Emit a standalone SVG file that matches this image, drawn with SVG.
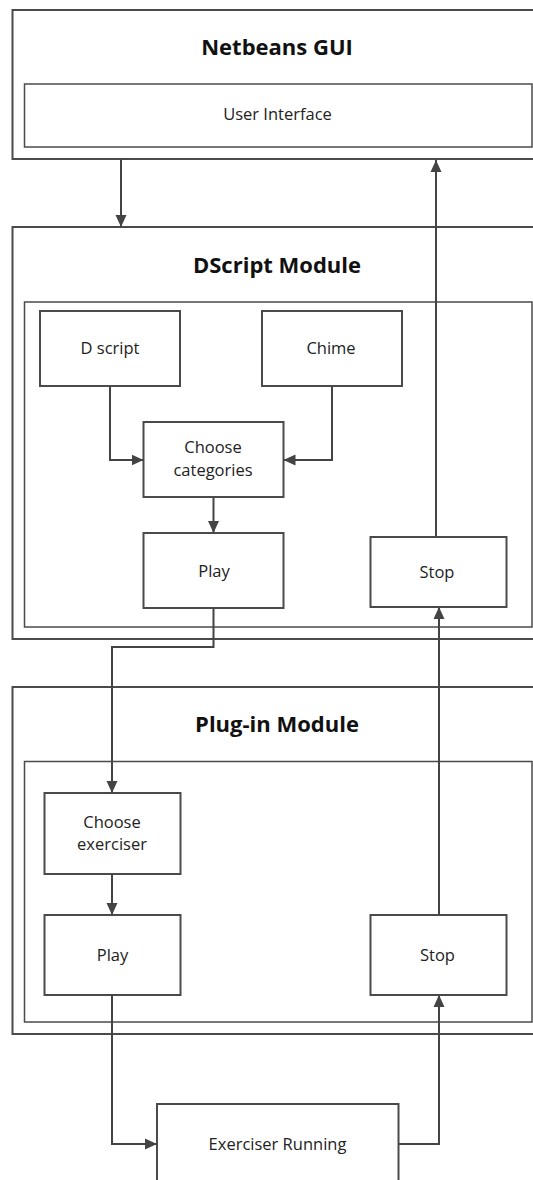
<svg xmlns="http://www.w3.org/2000/svg" width="533" height="1180" viewBox="0 0 533 1180">
  <defs>
    <marker id="arrow" viewBox="0 0 12 12" refX="12" refY="6" markerWidth="12" markerHeight="12" markerUnits="userSpaceOnUse" orient="auto">
      <path d="M0,0.5 L12,6 L0,11.5 z" fill="#444"/>
    </marker>
    <style>
      .outer { fill: none; stroke: #4a4a4a; stroke-width: 2; }
      .inner { fill: none; stroke: #4a4a4a; stroke-width: 1.5; }
      .node { fill: #fff; stroke: #4a4a4a; stroke-width: 2; }
      .title { font-family: "Open Sans", "Liberation Sans", sans-serif; font-weight: bold; font-size: 22px; fill: #111; text-anchor: middle; }
      .label { font-family: "Open Sans", "Liberation Sans", sans-serif; font-size: 16.5px; fill: #222; text-anchor: middle; }
      .conn { fill: none; stroke: #444; stroke-width: 2; }
    </style>
  </defs>
  <rect width="533" height="1180" fill="#fff"/>

  <!-- Netbeans GUI container -->
  <g id="netbeans-gui">
    <rect class="outer" x="12.5" y="10" width="530" height="149"/>
    <text class="title" x="277" y="55">Netbeans GUI</text>
  </g>
  <g id="user-interface">
    <rect class="inner" x="24.5" y="84" width="507.5" height="63"/>
    <text class="label" x="277.5" y="120">User Interface</text>
  </g>

  <!-- DScript module container -->
  <g id="dscript-module">
    <rect class="outer" x="12.5" y="227" width="530" height="412"/>
    <text class="title" x="277" y="273">DScript Module</text>
    <rect class="inner" x="24.5" y="302" width="507.5" height="325"/>
  </g>
  <g id="dscript">
    <rect class="node" x="40" y="311" width="140" height="75"/>
    <text class="label" x="110" y="354">D script</text>
  </g>
  <g id="chime">
    <rect class="node" x="262" y="311" width="140" height="75"/>
    <text class="label" x="331" y="354">Chime</text>
  </g>
  <g id="choose-categories">
    <rect class="node" x="143.5" y="422" width="140" height="75"/>
    <text class="label" x="213" y="453">Choose</text>
    <text class="label" x="213" y="475.5">categories</text>
  </g>
  <g id="dscript-play">
    <rect class="node" x="143.5" y="533" width="140" height="75"/>
    <text class="label" x="214" y="576.5">Play</text>
  </g>
  <g id="dscript-stop">
    <rect class="node" x="370.5" y="537" width="136" height="70"/>
    <text class="label" x="437" y="578">Stop</text>
  </g>

  <!-- Plug-in module container -->
  <g id="plugin-module">
    <rect class="outer" x="12.5" y="687" width="530" height="347"/>
    <text class="title" x="277" y="731.5">Plug-in Module</text>
    <rect class="inner" x="24.5" y="761.5" width="507.5" height="260.5"/>
  </g>
  <g id="choose-exerciser">
    <rect class="node" x="44.5" y="793" width="136" height="81"/>
    <text class="label" x="112" y="828">Choose</text>
    <text class="label" x="112" y="850">exerciser</text>
  </g>
  <g id="plugin-play">
    <rect class="node" x="44.5" y="915" width="136" height="80"/>
    <text class="label" x="112.5" y="960.5">Play</text>
  </g>
  <g id="plugin-stop">
    <rect class="node" x="370.5" y="915" width="136" height="80"/>
    <text class="label" x="437.5" y="960.5">Stop</text>
  </g>

  <!-- Running exerciser -->
  <g id="exerciser-running">
    <rect class="node" x="157" y="1104" width="241.5" height="90"/>
    <text class="label" x="277.5" y="1150">Exerciser Running</text>
  </g>

  <!-- Connectors -->
  <g id="connectors">
    <path class="conn" d="M121,159 V227" marker-end="url(#arrow)"/>
    <path class="conn" d="M436,537 V160" marker-end="url(#arrow)"/>
    <path class="conn" d="M110,386 V460 H143.5" marker-end="url(#arrow)"/>
    <path class="conn" d="M332,386 V460 H283.5" marker-end="url(#arrow)"/>
    <path class="conn" d="M213.5,497 V533" marker-end="url(#arrow)"/>
    <path class="conn" d="M213.5,608 V647 H112 V793" marker-end="url(#arrow)"/>
    <path class="conn" d="M112,874 V915" marker-end="url(#arrow)"/>
    <path class="conn" d="M439,915 V607" marker-end="url(#arrow)"/>
    <path class="conn" d="M112,995 V1144 H157" marker-end="url(#arrow)"/>
    <path class="conn" d="M398.5,1144 H439 V995" marker-end="url(#arrow)"/>
  </g>
</svg>
